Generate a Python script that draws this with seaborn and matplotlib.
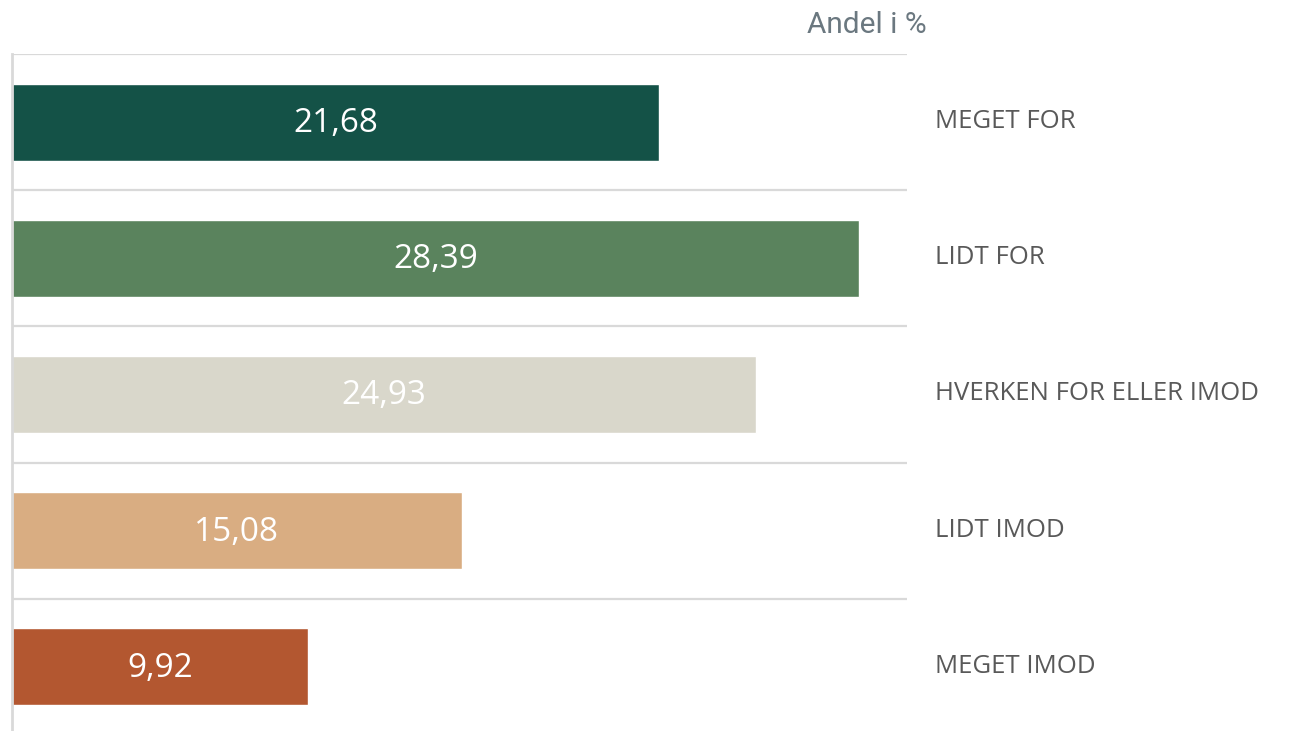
import matplotlib
matplotlib.use("Agg")
import matplotlib.pyplot as plt
import seaborn as sns
import pandas as pd

categories = ["MEGET FOR", "LIDT FOR", "HVERKEN FOR ELLER IMOD", "LIDT IMOD", "MEGET IMOD"]
values = [21.68, 28.39, 24.93, 15.08, 9.92]
value_labels = ["21,68", "28,39", "24,93", "15,08", "9,92"]
colors = ["#145247", "#5a835d", "#d9d7cb", "#d9ad82", "#b35730"]
title = "Andel i %"

sns.set_theme(style="white")
plt.rcParams['font.family'] = ['Open Sans', 'DejaVu Sans']

df = pd.DataFrame({"cat": categories, "val": values})

W, H = 1315, 731
fig = plt.figure(figsize=(W / 100, H / 100), dpi=100)
ax = fig.add_axes([12 / W, (H - 735) / H, 895 / W, 681 / H])

sns.barplot(data=df, y="cat", x="val", hue="cat", palette=colors, order=categories,
            hue_order=categories, orient="h", width=0.565, legend=False, ax=ax,
            saturation=1)

ax.set_xlim(0, 30)
ax.set_ylim(len(categories) - 0.5, -0.5)
ax.set_xlabel("")
ax.set_ylabel("")
ax.set_xticks([])
ax.set_yticks([])
for s in ["top", "right", "bottom"]:
    ax.spines[s].set_visible(False)
ax.spines["left"].set_color("#d9d9d9")
ax.spines["left"].set_linewidth(2)

for b in range(len(categories)):
    ax.axhline(b - 0.5, color="#d9d9d9", lw=1.6, zorder=0)

for i, (v, lab) in enumerate(zip(values, value_labels)):
    ax.text(v / 2, i + 0.01, lab, ha="center", va="center", color="white", fontsize=24)
    ax.text(30.94, i - 0.005, categories[i], ha="left", va="center", color="#595959",
            fontsize=18.5, clip_on=False)

fig.text(927 / W, 1 - 25 / H, title, ha="right", va="center", color="#6b7880",
         fontsize=21.5, fontweight="normal", family=["Roboto", "DejaVu Sans"])

fig.savefig("out.png", dpi=100, facecolor="white")
